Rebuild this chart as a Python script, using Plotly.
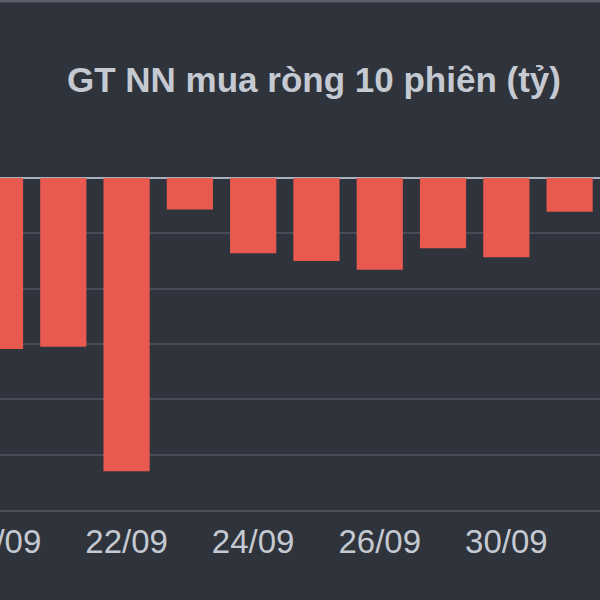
import plotly.graph_objects as go

dates = ["18/09", "19/09", "22/09", "23/09", "24/09", "25/09", "26/09", "29/09", "30/09", "01/10"]
values = [-309, -305, -530, -57, -136, -150, -166, -127, -143, -61]
shown_ticks = ["18/09", "22/09", "24/09", "26/09", "30/09"]
title_text = "GT NN mua ròng 10 phiên (tỷ)"

BG = "#2e333c"
BAR = "#e85a50"
TXT = "#c5c9d1"

fig = go.Figure(go.Bar(
    x=dates, y=values, marker=dict(color=BAR, line=dict(width=0)),
    hoverinfo="skip",
))

fig.update_layout(
    width=600, height=600,
    paper_bgcolor=BG, plot_bgcolor=BG,
    margin=dict(l=0, r=0, t=178, b=90, autoexpand=False),
    bargap=0.27,
    showlegend=False,
    font=dict(family="Liberation Sans, Arial, sans-serif", color=TXT),
    xaxis=dict(
        type="category", range=[0.0, 9.48], automargin=False,
        tickmode="array", tickvals=shown_ticks, ticktext=shown_ticks,
        tickfont=dict(size=33, color=TXT),
        showgrid=False, ticks="", ticklen=0,
        showline=True, linecolor="#4f4c5a", linewidth=2,
        ticklabelstandoff=1,
        zeroline=False,
    ),
    yaxis=dict(
        range=[-600, 0], dtick=100, showticklabels=False, automargin=False,
        showgrid=True, gridcolor="#484c58", gridwidth=1.5,
        zeroline=True, zerolinecolor="#a9b0bb", zerolinewidth=2,
        showline=False, ticks="",
    ),
    annotations=[dict(
        text="<b>" + title_text + "</b>", xref="paper", yref="paper",
        x=563 / 600, y=1 + (178 - 80) / 332, xanchor="right", yanchor="middle",
        showarrow=False, font=dict(size=35, color=TXT),
    )],
    shapes=[dict(
        type="line", xref="paper", yref="paper",
        x0=0, x1=1, y0=1 + 177 / 332, y1=1 + 177 / 332,
        line=dict(color="#5a5f69", width=3),
    )],
)

fig.write_html("out.html", config={"displayModeBar": False},
               post_script="document.body.style.margin='0';document.body.style.padding='0';")
